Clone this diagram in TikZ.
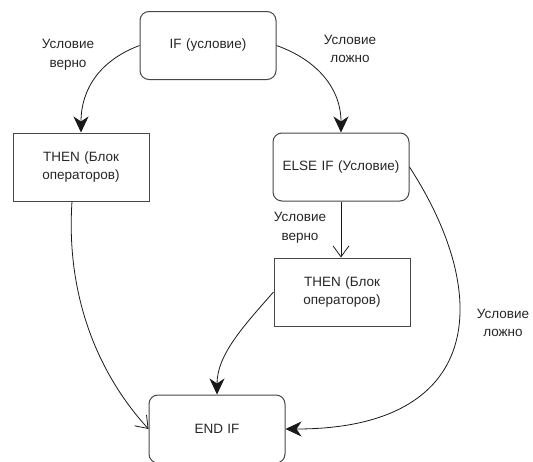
\documentclass[tikz,border=0pt]{standalone}
\usepackage{fontspec}
\setmainfont{Liberation Sans}
\usetikzlibrary{arrows.meta}
\begin{document}
\begin{tikzpicture}[x=1pt,y=-1pt,
  every node/.style={font=\fontsize{13.5}{18.5}\selectfont, text=black!85},
  box/.style={draw=black!72, line width=1pt, minimum width=136pt, minimum height=68pt, align=center, text width=134pt, inner sep=0pt},
  rbox/.style={box, rounded corners=9pt},
  lbl/.style={align=center, inner sep=0pt},
  conn/.style={draw=black!90, line width=0.8pt},
  fullhead/.style={-{Stealth[length=16pt,width=15pt,inset=5pt]}},
  openhead/.style={-{Straight Barb[length=11pt,width=16pt]}}
]
\useasboundingbox (0,0) rectangle (533,461);
\node[rbox] (if) at (208,45.5) {IF (условие)};
\node[box] (thenL) at (81,167) {THEN (Блок\\операторов)};
\node[rbox] (elif) at (341,167) {ELSE IF (Условие)};
\node[box] (thenR) at (342,292) {THEN (Блок\\операторов)};
\node[rbox] (end) at (217,429) {END IF};

\node[lbl] (l1) at (68,55) {Условие\\верно};
\node[lbl] (l2) at (350,49) {Условие\\ложно};
\node[lbl] (l3) at (300,228) {Условие\\верно};
\node[lbl] (l4) at (503,323) {Условие\\ложно};

\draw[conn, fullhead] (if.west) .. controls +(-40,15) and +(0,-43) .. (thenL.north);
\draw[conn, fullhead] (if.east) .. controls +(42,15) and +(0,-43) .. (elif.north);
\draw[conn, openhead] (elif.south) -- (elif.south |- thenR.north);
\draw[conn, openhead] ([xshift=-9pt]thenL.south) .. controls +(-6,89) and +(-54,-59) .. (end.west);
\draw[conn, fullhead] (thenR.west) .. controls +(-29,33) and +(0,-40) .. (end.north);
\draw[conn, fullhead] (elif.east) .. controls +(86,133) and +(195,0) .. (end.east);
\end{tikzpicture}
\end{document}
